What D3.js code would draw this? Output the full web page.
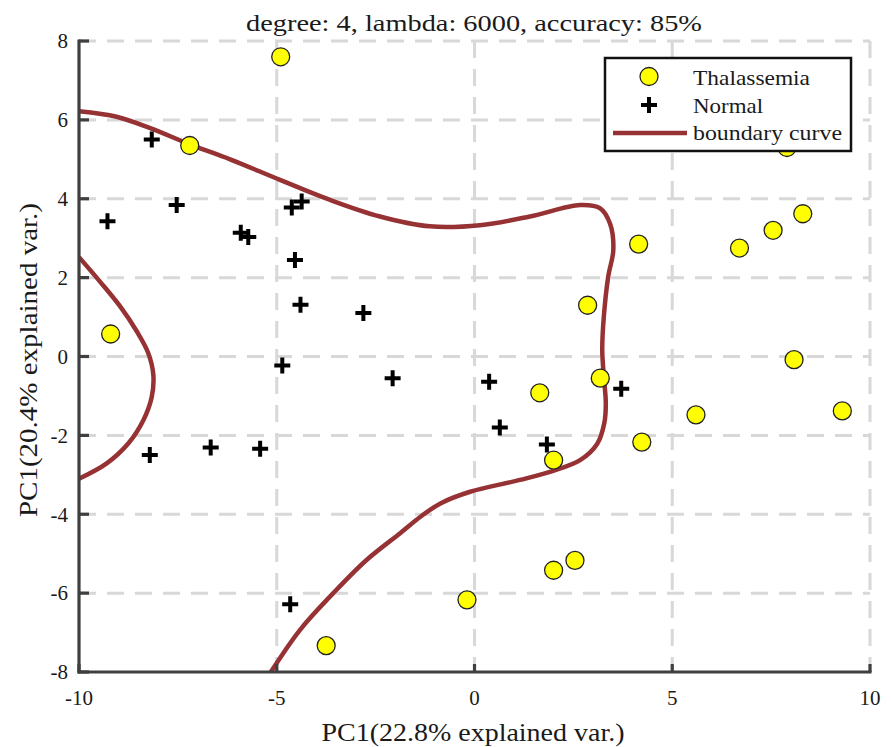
<!DOCTYPE html>
<html>
<head>
<meta charset="utf-8">
<script src="https://cdn.jsdelivr.net/npm/d3@7/dist/d3.min.js"></script>
<style>
  html, body { margin: 0; padding: 0; background: #ffffff; }
  svg { display: block; }
  text { font-family: "Liberation Serif", "DejaVu Serif", serif; fill: #1a1a1a; }
</style>
</head>
<body>
<svg id="chart" width="891" height="747"></svg>
<script>
// PCA scores, first two components
const thalassemia = [
  [-4.9, 7.6], [-7.2, 5.35], [7.9, 5.3], [8.3, 3.62], [7.55, 3.2],
  [6.7, 2.75], [4.15, 2.85], [-9.2, 0.57], [2.86, 1.3], [3.18, -0.55],
  [1.65, -0.92], [8.08, -0.08], [5.6, -1.48], [9.3, -1.38], [4.23, -2.17],
  [2.0, -2.63], [2.0, -5.42], [2.54, -5.17], [-0.19, -6.17], [-3.75, -7.33]
];
const normal = [
  [-8.16, 5.5], [-9.28, 3.43], [-7.53, 3.84], [-5.91, 3.14], [-5.72, 3.03],
  [-4.62, 3.78], [-4.37, 3.93], [-4.54, 2.45], [-4.4, 1.31], [-2.81, 1.1],
  [-4.86, -0.23], [-2.07, -0.55], [-8.21, -2.5], [-6.67, -2.31], [-5.42, -2.34],
  [0.37, -0.64], [3.71, -0.82], [0.64, -1.8], [1.83, -2.23], [-4.66, -6.28]
];
// decision boundary (degree-4 logistic regression), two branches
const boundaryLeft = [
  [-10, 2.52], [-9.47, 1.9], [-8.96, 1.27], [-8.54, 0.64], [-8.25, 0.09],
  [-8.12, -0.47], [-8.16, -1.02], [-8.37, -1.61], [-8.75, -2.2], [-9.3, -2.71],
  [-10, -3.1]
];
const boundaryMain = [
  [-10, 6.22], [-9.05, 6.08], [-8.2, 5.79], [-7.15, 5.36], [-6.18, 5.0],
  [-4.92, 4.48], [-3.65, 3.97], [-2.39, 3.55], [-1.13, 3.3], [0.14, 3.33],
  [1.4, 3.55], [2.67, 3.84], [3.17, 3.76], [3.43, 3.36], [3.51, 2.7],
  [3.38, 2.02], [3.27, 1.01], [3.23, 0.17], [3.27, -0.51], [3.32, -1.19],
  [3.28, -1.7], [3.1, -2.22], [2.67, -2.63], [1.99, -2.9], [1.15, -3.13],
  [-0.11, -3.43], [-0.85, -3.72], [-1.35, -4.05], [-1.88, -4.48], [-2.73, -5.16],
  [-3.57, -6.0], [-4.41, -6.93], [-5.15, -8.0]
];
const xTicks = [-10, -5, 0, 5, 10];
const yTicks = [-8, -6, -4, -2, 0, 2, 4, 6, 8];
const titleText = "degree: 4, lambda: 6000, accuracy: 85%";
const xLabel = "PC1(22.8% explained var.)";
const yLabel = "PC1(20.4% explained var.)";
const legendItems = ["Thalassemia", "Normal", "boundary curve"];

const svg = d3.select("#chart");
const x = d3.scaleLinear().domain([-10, 10]).range([79, 870]);
const y = d3.scaleLinear().domain([-8, 8]).range([672, 41]);

const gridColor = "#d8d8d8";
const curveColor = "#973234";
const axisColor = "#3f3f3f";

// dashed grid
const grid = svg.append("g");
grid.selectAll("line.vg").data(xTicks.slice(1)).join("line")
  .attr("x1", d => x(d)).attr("x2", d => x(d))
  .attr("y1", y(8)).attr("y2", y(-8))
  .attr("stroke", gridColor).attr("stroke-width", 3)
  .attr("stroke-dasharray", "17,11");
grid.selectAll("line.hg").data(yTicks.slice(1)).join("line")
  .attr("x1", x(-10)).attr("x2", x(10))
  .attr("y1", d => y(d)).attr("y2", d => y(d))
  .attr("stroke", gridColor).attr("stroke-width", 3)
  .attr("stroke-dasharray", "17,11");

// boundary curve, clipped to the plotting area
svg.append("clipPath").attr("id", "plotClip").append("rect")
  .attr("x", x(-10)).attr("y", y(8))
  .attr("width", x(10) - x(-10)).attr("height", y(-8) - y(8));
const line = d3.line().x(d => x(d[0])).y(d => y(d[1])).curve(d3.curveCatmullRom.alpha(0.5));
const curves = svg.append("g").attr("clip-path", "url(#plotClip)");
[boundaryLeft, boundaryMain].forEach(pts => {
  curves.append("path").attr("d", line(pts))
    .attr("fill", "none").attr("stroke", curveColor)
    .attr("stroke-width", 4.5).attr("stroke-linecap", "butt");
});

// plus marker path
const plus = s => `M${-s},0H${s}M0,${-s}V${s}`;

// Normal samples
svg.append("g").selectAll("path").data(normal).join("path")
  .attr("transform", d => `translate(${x(d[0])},${y(d[1])})`)
  .attr("d", plus(8)).attr("stroke", "#000").attr("stroke-width", 4)
  .attr("fill", "none");

// Thalassemia samples
svg.append("g").selectAll("circle").data(thalassemia).join("circle")
  .attr("cx", d => x(d[0])).attr("cy", d => y(d[1])).attr("r", 9)
  .attr("fill", "#ffff00").attr("stroke", "#222").attr("stroke-width", 1.3);

// axes: left and bottom lines with inward ticks
const axes = svg.append("g");
axes.append("line").attr("x1", x(-10)).attr("x2", x(-10))
  .attr("y1", y(8) - 1.5).attr("y2", y(-8) + 1.5)
  .attr("stroke", axisColor).attr("stroke-width", 3.2);
axes.append("line").attr("x1", x(-10) - 1.5).attr("x2", x(10) + 1.5)
  .attr("y1", y(-8)).attr("y2", y(-8))
  .attr("stroke", axisColor).attr("stroke-width", 3.2);
axes.selectAll("line.yt").data(yTicks).join("line")
  .attr("x1", x(-10)).attr("x2", x(-10) + 10)
  .attr("y1", d => y(d)).attr("y2", d => y(d))
  .attr("stroke", axisColor).attr("stroke-width", 3.2);
axes.selectAll("line.xt").data(xTicks).join("line")
  .attr("x1", d => x(d)).attr("x2", d => x(d))
  .attr("y1", y(-8)).attr("y2", y(-8) - 8)
  .attr("stroke", axisColor).attr("stroke-width", 3.2);

// tick labels
svg.append("g").selectAll("text").data(yTicks).join("text")
  .attr("x", 68).attr("y", d => y(d)).attr("dy", "0.35em")
  .attr("text-anchor", "end").attr("font-size", 21).text(d => d);
svg.append("g").selectAll("text").data(xTicks).join("text")
  .attr("x", d => x(d)).attr("y", 705)
  .attr("text-anchor", "middle").attr("font-size", 21).text(d => d);

// title and axis titles
svg.append("text").attr("x", 474).attr("y", 31)
  .attr("text-anchor", "middle").attr("font-size", 24)
  .attr("textLength", 456).attr("lengthAdjust", "spacingAndGlyphs")
  .text(titleText);
svg.append("text").attr("x", 473).attr("y", 741)
  .attr("text-anchor", "middle").attr("font-size", 25)
  .attr("textLength", 303).attr("lengthAdjust", "spacingAndGlyphs")
  .text(xLabel);
svg.append("text").attr("transform", "translate(37,360) rotate(-90)")
  .attr("text-anchor", "middle").attr("font-size", 25)
  .attr("textLength", 314).attr("lengthAdjust", "spacingAndGlyphs")
  .text(yLabel);

// legend
const lg = svg.append("g");
lg.append("rect").attr("x", 605).attr("y", 58).attr("width", 246).attr("height", 93)
  .attr("fill", "#fff").attr("stroke", "#111").attr("stroke-width", 2.5);
lg.append("circle").attr("cx", 649).attr("cy", 76.5).attr("r", 9)
  .attr("fill", "#ffff00").attr("stroke", "#222").attr("stroke-width", 1.3);
lg.append("path").attr("transform", "translate(649,105)").attr("d", plus(8))
  .attr("stroke", "#000").attr("stroke-width", 4).attr("fill", "none");
lg.append("line").attr("x1", 613).attr("x2", 687).attr("y1", 133).attr("y2", 133)
  .attr("stroke", curveColor).attr("stroke-width", 4.5);
const legendWidths = [117, 70, 149];
const legendBaselines = [85, 113, 140];
lg.selectAll("text").data(legendItems).join("text")
  .attr("x", 693).attr("y", (d, i) => legendBaselines[i])
  .attr("font-size", 21)
  .attr("textLength", (d, i) => legendWidths[i]).attr("lengthAdjust", "spacingAndGlyphs")
  .text(d => d);
</script>
</body>
</html>
